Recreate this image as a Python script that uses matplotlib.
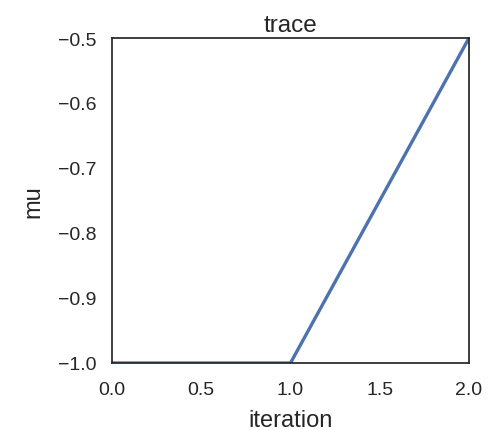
import matplotlib
matplotlib.use('Agg')
import matplotlib.pyplot as plt

iteration = [0, 1, 2]
mu = [-1.0, -1.0, -0.5]

plt.rcParams['font.family'] = ['Liberation Sans', 'DejaVu Sans']

fig = plt.figure(figsize=(4.89, 4.31), dpi=100)
ax = fig.add_axes([112/489, 1 - 364/431, (469 - 112)/489, (364 - 39)/431])

ax.plot(iteration, mu, color='#4c72b0', linewidth=2.4)
ax.set_xlim(0, 2)
ax.set_ylim(-1.0, -0.5)
ax.set_xticks([0.0, 0.5, 1.0, 1.5, 2.0])
ax.set_yticks([-1.0, -0.9, -0.8, -0.7, -0.6, -0.5])
ax.tick_params(length=0, labelsize=14, colors='#262626')
ax.tick_params(axis='x', pad=13)
ax.tick_params(axis='y', pad=11)
for s in ax.spines.values():
    s.set_color('#262626')
    s.set_linewidth(1.25)

ax.set_xlabel('iteration', fontsize=17, color='#262626', labelpad=8)
ax.set_ylabel('mu', fontsize=17, color='#262626', labelpad=10)
ax.set_title('trace', fontsize=17.5, color='#262626', pad=5)

fig.savefig('out.png', dpi=100)
